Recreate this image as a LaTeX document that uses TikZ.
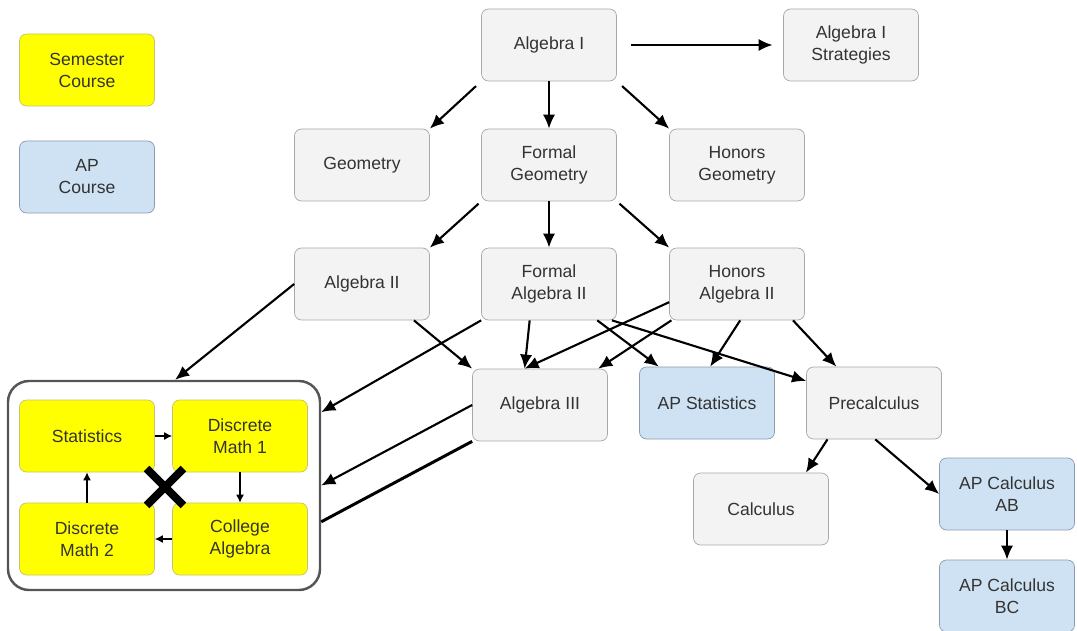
\documentclass[tikz,border=0pt]{standalone}
\usepackage{fontspec}
\setmainfont{Liberation Sans}
\usetikzlibrary{shapes,arrows.meta,calc}
\definecolor{boxgray}{HTML}{F3F3F3}
\definecolor{edgegray}{HTML}{A8A8A8}
\definecolor{semyellow}{HTML}{FFFF00}
\definecolor{semedge}{HTML}{C4C46A}
\definecolor{apblue}{HTML}{CFE2F3}
\definecolor{apedge}{HTML}{8C9AB0}
\definecolor{txtgray}{HTML}{333333}
\definecolor{grpgray}{HTML}{555555}
\tikzstyle{line} = [draw, line width=1.2pt, -{Latex[length=8pt,width=7pt]}]
\tikzstyle{thinline} = [draw, line width=0.7pt, -{Latex[length=4.5pt,width=4.5pt]}]
\tikzstyle{course} = [draw=edgegray, fill=boxgray, rectangle, rounded corners=4pt, minimum width=2.7cm, minimum height=1.44cm, align=center, text=txtgray, font=\fontsize{10}{12.5}\selectfont]
\tikzstyle{semester} = [course, draw=semedge, fill=semyellow]
\tikzstyle{apcourse} = [course, draw=apedge, fill=apblue]
\tikzstyle{group} = [draw=grpgray, line width=1.4pt, rectangle, rounded corners=12pt, minimum width=6.24cm, minimum height=4.18cm]

\begin{document}
\begin{tikzpicture}[node distance = 2.4cm]
        \useasboundingbox (0,0) rectangle (21.54,-12.62);
        % key
        \node[semester] at (1.74,-1.40) (sem) {Semester\\Course};
        \node[apcourse, below of=sem, node distance=2.14cm] (ap) {AP\\Course};
        % main tree
        \node[course] at (10.98,-0.90) (alg1) {Algebra I};
        \node[course, right of=alg1, node distance=6.04cm] (strat) {Algebra I\\Strategies};
        \node[course, below of=alg1] (fgeom) {Formal\\Geometry};
        \node[course, left of=fgeom, node distance=3.74cm] (geom) {Geometry};
        \node[course, right of=fgeom, node distance=3.76cm] (hgeom) {Honors\\Geometry};
        \node[course, below of=fgeom, node distance=2.38cm] (falg2) {Formal\\Algebra II};
        \node[course, left of=falg2, node distance=3.74cm] (alg2) {Algebra II};
        \node[course, right of=falg2, node distance=3.76cm] (halg2) {Honors\\Algebra II};
        \node[course] at (10.80,-8.10) (alg3) {Algebra III};
        \node[apcourse] at (14.14,-8.06) (apstat) {AP Statistics};
        \node[course, right of=apstat, node distance=3.34cm] (precalc) {Precalculus};
        \node[course] at (15.22,-10.18) (calc) {Calculus};
        \node[apcourse] at (20.14,-9.88) (ab) {AP Calculus\\AB};
        \node[apcourse, below of=ab, node distance=2.04cm] (bc) {AP Calculus\\BC};
        % semester group
        \node[group] at (3.28,-9.71) (grp) {};
        \node[semester] at (1.74,-8.72) (stat) {Statistics};
        \node[semester, right of=stat, node distance=3.06cm] (dm1) {Discrete\\Math 1};
        \node[semester, below of=stat, node distance=2.06cm] (dm2) {Discrete\\Math 2};
        \node[semester, right of=dm2, node distance=3.06cm] (coll) {College\\Algebra};
        \node[cross out, draw, line width=4.5pt, minimum size=0.58cm] at (3.30,-9.74) (xmark) {};
        \path[thinline] (stat) -- (dm1);
        \path[thinline] (dm1) -- (coll);
        \path[thinline] (coll) -- (dm2);
        \path[thinline] (dm2) -- (stat);
        % edges
        \path[line, shorten <=8pt, shorten >=6pt] (alg1) -- (strat);
        \path[line, shorten <=4pt] (alg1.south west) -- (geom.north east);
        \path[line] (alg1) -- (fgeom);
        \path[line, shorten <=4pt] (alg1.south east) -- (hgeom.north west);
        \path[line, shorten <=2pt] (fgeom.south west) -- (alg2.north east);
        \path[line] (fgeom) -- (falg2);
        \path[line, shorten <=2pt] (fgeom.south east) -- (halg2.north west);
        \path[line] (alg2.west) -- (grp.84);
        \path[line] (alg2.-35) -- (alg3.north west);
        \path[line] (falg2.south west) -- (grp.25);
        \path[line] (falg2.-118) -- (alg3.113);
        \path[line] (falg2.-37) -- (apstat.143);
        \path[line] (falg2.-30) -- (precalc.162);
        \path[line] (halg2.195) -- (alg3.113);
        \path[line] (halg2.209) -- (alg3.32);
        \path[line] (halg2.-85) -- (apstat.85);
        \path[line] (halg2.-33) -- (precalc.136);
        \path[line] (alg3.west) -- (grp.east);
        \draw[line width=1.7pt] (alg3.south west) -- (grp.-13);
        \path[line] (precalc.218) -- (calc.39);
        \path[line] (precalc.-88) -- (ab.west);
        \path[line] (ab) -- (bc);
    \end{tikzpicture}
\end{document}
